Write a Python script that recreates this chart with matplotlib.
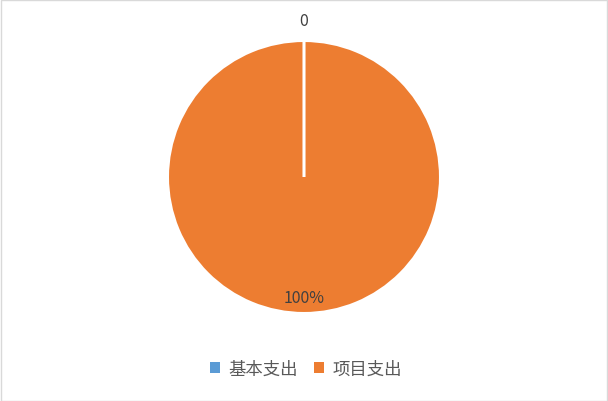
import matplotlib
matplotlib.use("Agg")
import matplotlib.pyplot as plt
from matplotlib.patches import Rectangle
import numpy as np

plt.rcParams['font.family'] = ['Noto Sans CJK SC', 'DejaVu Sans']

categories = ["基本支出", "项目支出"]
values = [0, 100]
labels = ["0", "100%"]
colors = ["#5b9bd5", "#ed7d31"]
label_dist = [1.15, 0.88]

W, H = 608, 402
fig = plt.figure(figsize=(W / 100, H / 100), dpi=100)
cx, cy, r = 304, 178, 136.5
ax = fig.add_axes([(cx - r) / W, (H - cy - r) / H, 2 * r / W, 2 * r / H])
wedges, _ = ax.pie(values, colors=colors, startangle=90, counterclock=False,
                   radius=1, wedgeprops=dict(edgecolor="white", linewidth=2.2))
wedges[0].set_zorder(5)
ax.set_xlim(-1, 1)
ax.set_ylim(-1, 1)
ax.axis("off")

for w, lab, d in zip(wedges, labels, label_dist):
    mid = np.deg2rad((w.theta1 + w.theta2) / 2)
    ax.text(d * np.cos(mid), d * np.sin(mid), lab, ha="center", va="center",
            fontsize=11.5, color="#404040", clip_on=False, zorder=6)

handles = [Rectangle((0, 0), 1, 1, facecolor=c, edgecolor="none") for c in colors]
fig.legend(handles, categories, loc="center", bbox_to_anchor=(306 / W, 1 - 370 / H),
           ncol=2, frameon=False, fontsize=12.5, handlelength=0.6, handleheight=0.6,
           handletextpad=0.5, columnspacing=0.9, labelcolor="#595959")

fig.patches.append(Rectangle((0.5 / W, 0.5 / H), 1 - 1.5 / W, 1 - 1.5 / H,
                             transform=fig.transFigure, fill=False,
                             edgecolor="#d9d9d9", linewidth=1))
fig.savefig("out.png", dpi=100)
